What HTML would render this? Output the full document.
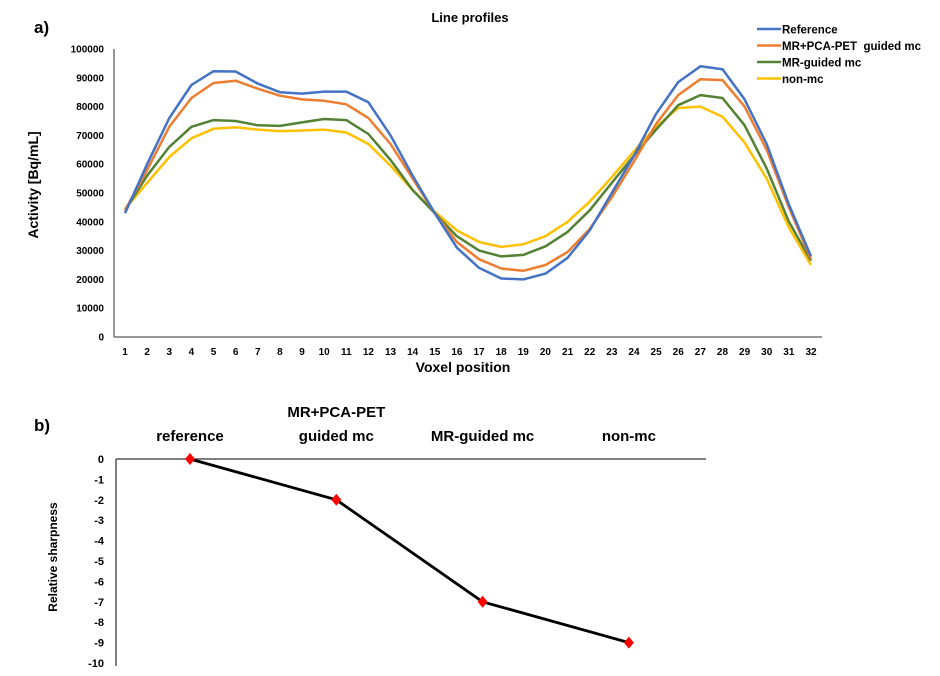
<!DOCTYPE html>
<html><head><meta charset="utf-8"><style>
html,body{margin:0;padding:0;background:#fff;}
svg{display:block;font-family:"Liberation Sans",sans-serif;font-weight:bold;}
.pre{white-space:pre;}
</style></head><body>
<svg id="fig" width="940" height="676" viewBox="0 0 940 676">
<text x="34" y="33" font-size="17">a)</text>
<text x="470" y="22" font-size="13" text-anchor="middle">Line profiles</text>
<text transform="translate(38,185) rotate(-90)" font-size="14" text-anchor="middle">Activity [Bq/mL]</text>
<text x="463" y="372" font-size="14" text-anchor="middle">Voxel position</text>
<g id="topG"></g>
<g id="legend"></g>
<text x="34" y="431" font-size="17">b)</text>
<text transform="translate(57,557) rotate(-90)" font-size="12" text-anchor="middle">Relative sharpness</text>
<g id="botG"></g>
</svg>
<script>
const voxels = Array.from({length:32},(_,i)=>i+1);
const yTicks = [0,10000,20000,30000,40000,50000,60000,70000,80000,90000,100000];
const seriesNames = ["Reference","MR+PCA-PET  guided mc","MR-guided mc","non-mc"];
const refVals = [43000,60000,76000,87500,92300,92200,88000,85000,84500,85200,85200,81500,70000,56000,43000,31000,24000,20300,20000,22000,27500,37000,50000,63000,77500,88500,94000,93000,82500,67000,46000,28000];
const pcaVals = [44000,58000,73000,83000,88200,89000,86200,83800,82500,82000,80800,76000,67000,55000,43000,33000,27000,23800,23000,25000,29500,37500,48500,61000,74000,84000,89500,89200,80000,65000,45000,27000];
const mrVals = [44000,56000,66000,73000,75300,75000,73500,73300,74500,75700,75300,70500,61500,51000,43000,35000,30000,28000,28500,31500,36500,44000,53500,63000,72000,80500,84000,83000,73500,58500,40000,26500];
const nonVals = [44500,53500,62500,69000,72300,72800,72000,71500,71700,72000,71000,67000,59500,51000,43500,37000,33000,31300,32200,35000,40000,47000,55500,64500,73000,79500,80000,76500,67500,55000,38000,25000];
const sharpCats = [["reference"],["MR+PCA-PET","guided mc"],["MR-guided mc"],["non-mc"]];
const sharpVals = [0,-2,-7,-9];
const sharpTicks = [0,-1,-2,-3,-4,-5,-6,-7,-8,-9,-10];

const NS="http://www.w3.org/2000/svg";
function mk(tag,attrs,parent,txt){const e=document.createElementNS(NS,tag);for(const k in attrs)e.setAttribute(k,attrs[k]);if(txt!==undefined)e.textContent=txt;parent.appendChild(e);return e;}

const topG=document.getElementById('topG');
const xA=v=>125+(v-1)*(811-125)/31;
const yA=v=>337-v*(337-49)/100000;
let e=mk('line',{x1:114,y1:49,x2:114,y2:337,stroke:'#777','stroke-width':1.5},topG);


e=mk('line',{x1:114,y1:337,x2:822,y2:337,stroke:'#777','stroke-width':1.5},topG);


yTicks.forEach(t=>{const el=mk('text',{x:104,y:yA(t)+3.5,'font-size':10,'text-anchor':'end'},topG,String(t));

});
voxels.forEach(v=>{const el=mk('text',{x:xA(v),y:355,'font-size':10,'text-anchor':'middle'},topG,String(v));

});
const colors=['#4472c4','#ed7d31','#548235','#ffc000'];
const allVals=[refVals,pcaVals,mrVals,nonVals];
const order=[3,2,1,0];
order.forEach(i=>{const d=allVals[i].map((v,j)=>(j?'L':'M')+xA(voxels[j]).toFixed(1)+' '+yA(v).toFixed(1)).join(' ');
const p=mk('path',{d:d,fill:'none',stroke:colors[i],'stroke-width':2.5,'stroke-linejoin':'round'},topG);

});
const lg=document.getElementById('legend');
seriesNames.forEach((n,i)=>{const y=29+i*16.5;
const l=mk('line',{x1:757,y1:y,x2:781,y2:y,stroke:colors[i],'stroke-width':2.5},lg);


const t=mk('text',{x:782,y:y+4.5,'font-size':11.5,'class':'pre'},lg,n);

});

const botG=document.getElementById('botG');
const bx=i=>190+i*146.3;
const by=v=>459-v*20.4;
e=mk('line',{x1:116,y1:459,x2:116,y2:666,stroke:'#555','stroke-width':1.5},botG);


e=mk('line',{x1:116,y1:459,x2:706,y2:459,stroke:'#555','stroke-width':1.5},botG);


sharpTicks.forEach(t=>{const el=mk('text',{x:104,y:by(t)+4,'font-size':11,'text-anchor':'end'},botG,String(t));

});
sharpCats.forEach((c,i)=>{c.forEach((s,k)=>{const el=mk('text',{x:bx(i),y:441-(c.length-1-k)*24,'font-size':15,'text-anchor':'middle'},botG,s);

});});
const d2=sharpVals.map((v,i)=>(i?'L':'M')+bx(i)+' '+by(v)).join(' ');
e=mk('path',{d:d2,fill:'none',stroke:'#000','stroke-width':2.8},botG);


sharpVals.forEach((v,i)=>{const x=bx(i),y=by(v);
const m=mk('polygon',{points:`${x},${y-6} ${x+5},${y} ${x},${y+6} ${x-5},${y}`,fill:'#ff0000'},botG);

});
</script>
</body></html>
